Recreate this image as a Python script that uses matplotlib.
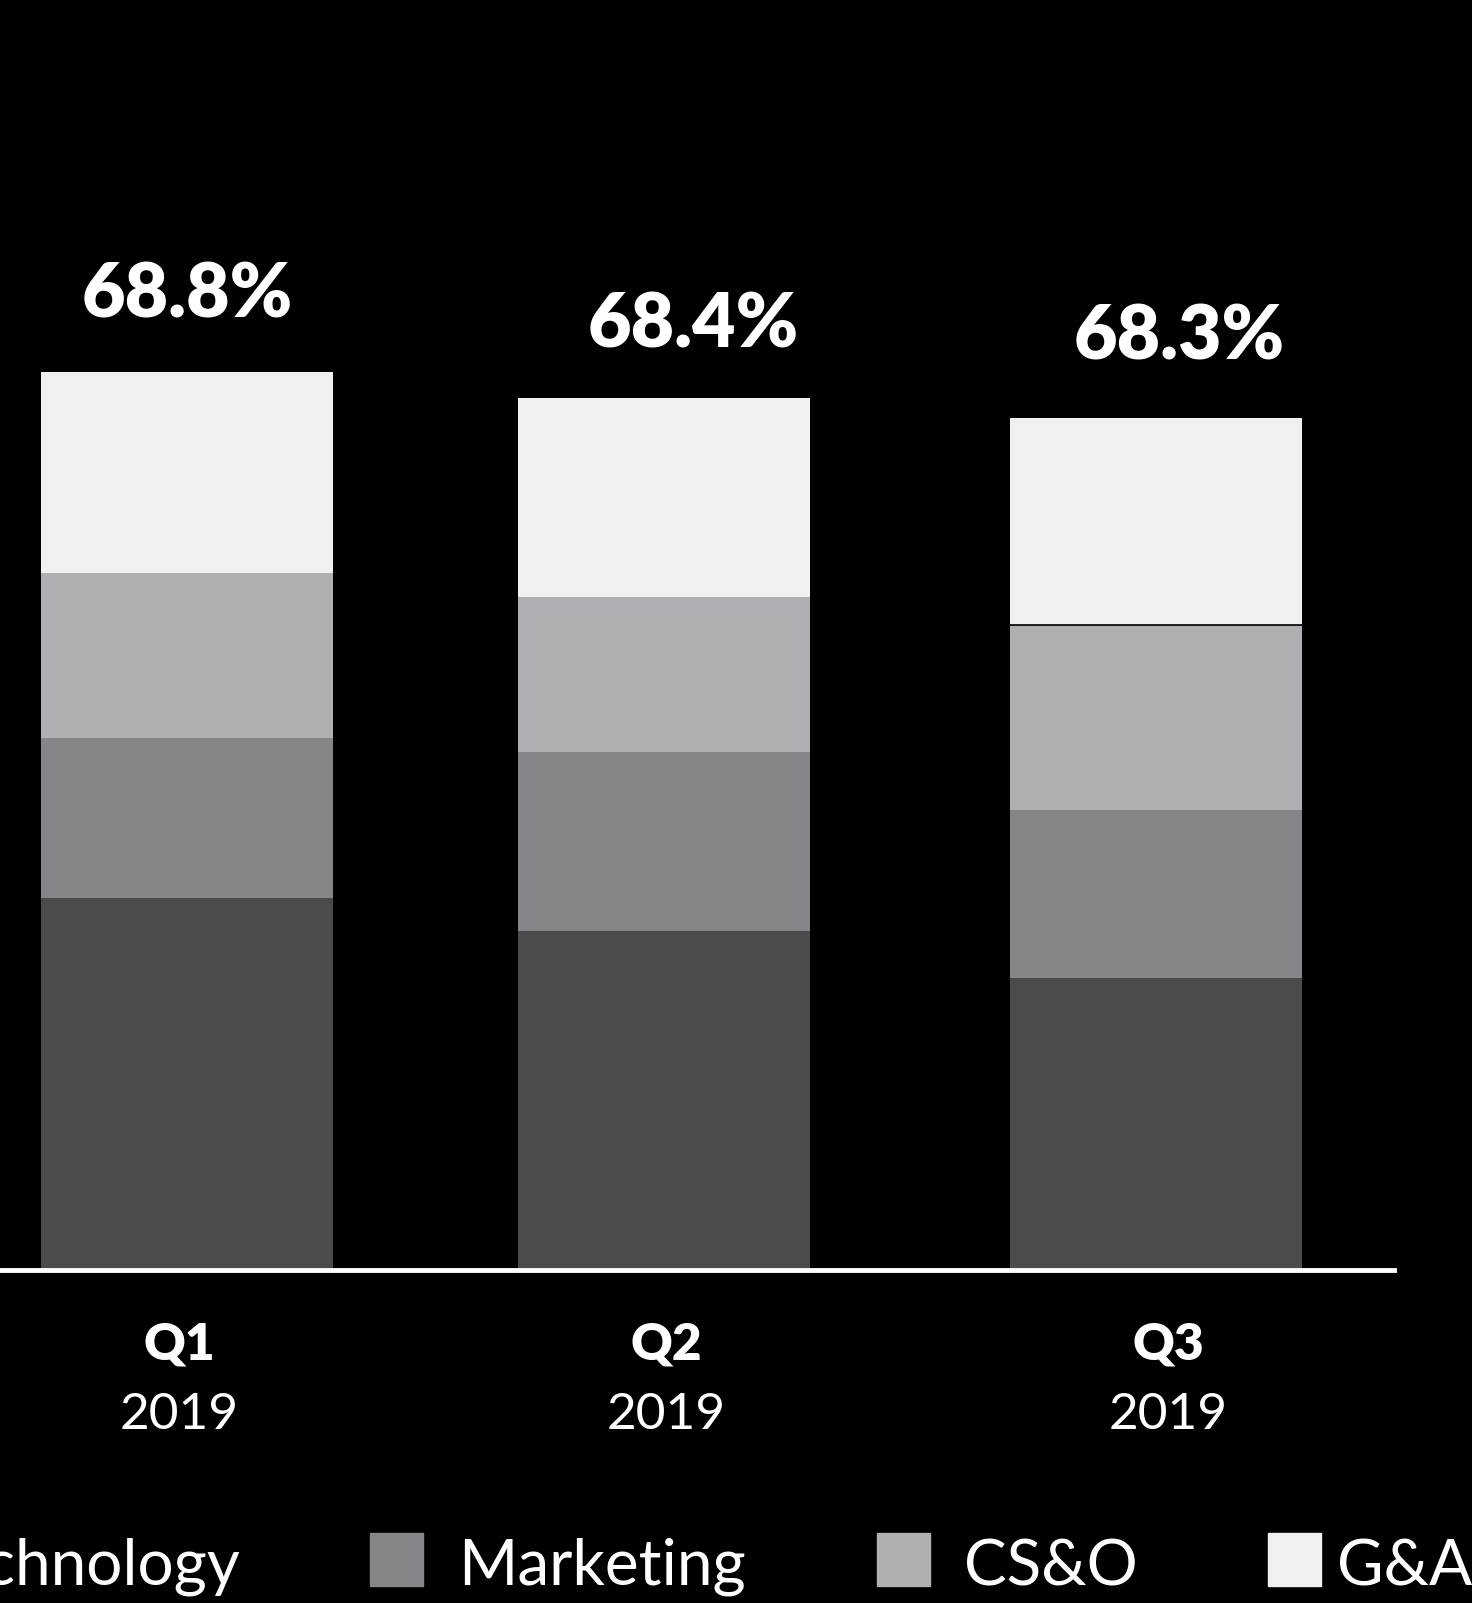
import numpy as np
import matplotlib.pyplot as plt
from matplotlib.patches import Rectangle

# datos (alturas de cada segmento, unidades del eje)
quarters = ["Q1", "Q2", "Q3"]
years = ["2019", "2019", "2019"]
totals = ["68.8%", "68.4%", "68.3%"]
technology = [372, 339, 292]
marketing = [160, 179, 168]
cso = [165, 155, 185]
gna = [201, 199, 207]

series = ["Technology", "Marketing", "CS&O", "G&A"]
colors = ["#4b4b4d", "#858689", "#afb0b3", "#eff1f0"]

# posiciones (pixeles de la figura)
W, H = 1472, 1603
base = 1270
x_pos = [187, 663.5, 1156]
bar_w = 292
tick_x = [179, 666, 1168]
lab_dx = [0, 30, 23]
lab_dy = [76, 73, 81]

plt.rcParams['font.family'] = ['Lato', 'DejaVu Sans']

fig = plt.figure(figsize=(W / 100, H / 100), dpi=100)
fig.patch.set_facecolor("black")
ax = fig.add_axes([0, (H - base) / H, 1394 / W, base / H])
ax.set_facecolor("black")
ax.set_xlim(0, 1394)
ax.set_ylim(0, base)
ax.axis("off")

bottom = np.zeros(3)
for vals, c in zip([technology, marketing, cso, gna], colors):
    ax.bar(x_pos, vals, bar_w, bottom=bottom, color=c, linewidth=0)
    bottom += np.array(vals)

# linea fina negra en Q3 entre CS&O y G&A
b3 = technology[2] + marketing[2] + cso[2]
ax.plot([x_pos[2] - bar_w / 2, x_pos[2] + bar_w / 2], [b3, b3], color="black", lw=1.2)

ax.axhline(0, color="white", lw=3.5, zorder=5, clip_on=False)

for i in range(3):
    ax.text(x_pos[i] + lab_dx[i], bottom[i] + lab_dy[i], totals[i], color="white",
            fontsize=54, fontweight="heavy", ha="center", va="center")
    ax.text(tick_x[i], -74, quarters[i], color="white", fontsize=37,
            fontweight="heavy", ha="center", va="center", clip_on=False)
    ax.text(tick_x[i], -145, years[i], color="white", fontsize=37,
            ha="center", va="center", clip_on=False)

# leyenda manual
sq_x = [-200, 370, 877, 1268]
txt_x = [240, 458, 964, 1337]
for i in range(4):
    fig.add_artist(Rectangle((sq_x[i] / W, (H - 1586) / H), 53 / W, 53 / H,
                             transform=fig.transFigure, color=colors[i]))
    ha = "right" if i == 0 else "left"
    fig.text(txt_x[i] / W, (H - 1585) / H, series[i], color="white",
             fontsize=46, ha=ha, va="baseline")

plt.savefig("out.png", dpi=100, facecolor="black")
plt.close()
